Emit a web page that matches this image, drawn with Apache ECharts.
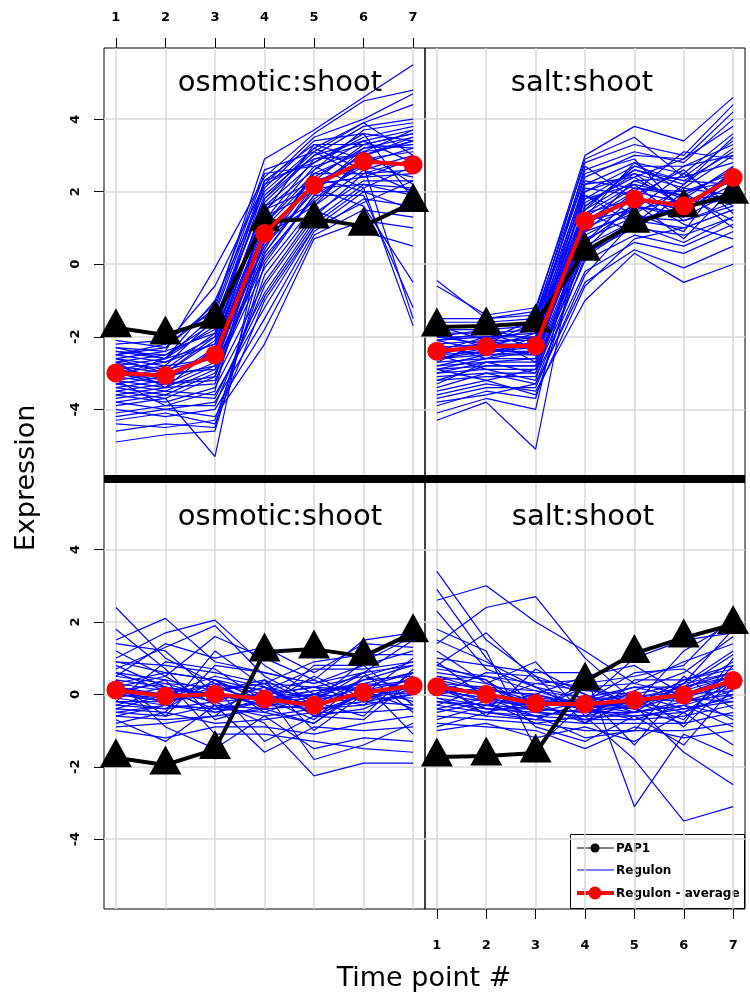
<!DOCTYPE html>
<html>
<head>
<meta charset="utf-8">
<script src="https://cdn.jsdelivr.net/npm/echarts@6/dist/echarts.min.js"></script>
<style>
  html, body { margin: 0; padding: 0; background: #fff; }
  #chart { width: 750px; height: 998px; }
</style>
</head>
<body>
<div id="chart"></div>
<script>
// time points and tick labels
const timePoints = [1, 2, 3, 4, 5, 6, 7];
const yTicks = [-4, -2, 0, 2, 4];
const panelTitles = ["osmotic:shoot", "salt:shoot", "osmotic:shoot", "salt:shoot"];

// PAP1 (same gene in both rows)
const pap1Osmotic = [-1.75, -1.95, -1.52, 1.17, 1.25, 1.05, 1.7];
const pap1Salt = [-1.73, -1.7, -1.62, 0.36, 1.13, 1.56, 1.93];

// regulon averages
const avgOsmoticUp = [-3.0, -3.07, -2.5, 0.85, 2.18, 2.83, 2.74];
const avgSaltUp = [-2.4, -2.27, -2.25, 1.19, 1.8, 1.61, 2.39];
const avgOsmoticFlat = [0.12, -0.05, 0.0, -0.13, -0.3, 0.05, 0.24];
const avgSaltFlat = [0.21, 0.0, -0.25, -0.27, -0.16, -0.02, 0.38];

// regulon genes, top-left
const regOsmoticUp = [
  [-2.1, -2.3, -1.2, 2.9, 3.7, 4.6, 5.5],
  [-2.3, -2.4, -0.1, 2.4, 3.6, 4.5, 4.8],
  [-2.5, -2.2, -0.6, 2.2, 3.5, 4.0, 4.7],
  [-2.4, -2.6, -1.0, 2.0, 3.2, 3.9, 4.4],
  [-2.6, -2.8, -1.5, 1.8, 3.0, 3.8, 4.0],
  [-2.7, -2.5, -1.8, 2.3, 2.8, 3.5, 3.8],
  [-2.8, -3.0, -2.0, 1.5, 2.6, 3.4, 3.7],
  [-2.9, -2.7, -2.2, 1.2, 2.9, 3.3, 3.6],
  [-3.0, -3.2, -2.4, 1.0, 2.4, 3.2, 3.5],
  [-3.1, -2.9, -2.6, 0.8, 2.2, 3.0, 3.4],
  [-3.2, -3.4, -2.3, 0.5, 2.0, 3.1, 3.3],
  [-3.3, -3.1, -2.8, 0.2, 1.8, 2.8, 3.2],
  [-3.4, -3.6, -3.0, -0.1, 1.6, 2.6, 3.0],
  [-3.0, -3.3, -2.7, 0.6, 2.5, 2.5, 2.9],
  [-2.6, -3.0, -2.1, 1.4, 3.3, 2.9, 2.7],
  [-2.8, -2.6, -1.7, 1.9, 3.1, 2.4, 2.5],
  [-3.5, -3.3, -3.2, -0.5, 1.4, 2.3, 2.3],
  [-3.6, -3.8, -3.4, -0.8, 1.2, 2.2, 2.1],
  [-3.7, -3.5, -3.6, -1.2, 1.0, 2.0, 2.0],
  [-3.8, -4.0, -3.8, -1.5, 0.9, 1.8, 1.6],
  [-4.0, -4.2, -4.0, -1.8, 0.8, 1.5, 1.3],
  [-4.2, -4.0, -4.2, -2.2, 0.7, 1.2, 1.0],
  [-4.4, -4.5, -4.3, -0.3, 1.5, 0.9, 0.5],
  [-4.6, -4.4, -4.5, 0.3, 2.1, 1.6, -0.5],
  [-4.9, -4.7, -4.6, 0.0, 1.9, 1.9, -1.2],
  [-3.9, -3.7, -5.3, 1.1, 2.7, 2.1, -1.7],
  [-3.2, -3.9, -3.5, 1.6, 2.3, 2.7, -1.5],
  [-2.7, -2.9, -1.9, 2.1, 3.4, 3.6, 1.8],
  [-3.3, -3.5, -2.9, 0.4, 2.6, 3.7, 3.9],
  [-2.2, -2.1, -1.3, 2.5, 2.7, 3.1, 2.2],
  [-3.1, -3.3, -3.1, 0.9, 1.7, 2.9, 3.1],
  [-2.9, -3.1, -2.5, 1.3, 2.0, 3.2, 3.3],
  [-3.6, -3.4, -3.3, 0.7, 2.4, 2.0, 1.5],
  [-2.5, -2.7, -2.0, 1.7, 3.0, 3.4, 2.8],
  [-4.1, -3.9, -3.9, -0.6, 1.3, 2.5, 2.6],
  [-2.4, -2.5, -1.6, 2.2, 2.9, 3.0, 3.5],
  [-2.3, -2.6, -1.4, 2.3, 3.3, 3.3, 3.6],
  [-2.6, -2.4, -1.9, 1.6, 2.8, 3.6, 3.4],
  [-2.8, -3.2, -2.3, 1.1, 2.5, 3.1, 3.7],
  [-3.0, -2.8, -2.6, 0.5, 2.3, 3.3, 3.2],
  [-3.2, -3.0, -2.9, 0.1, 1.9, 2.7, 2.4],
  [-3.4, -3.2, -2.4, 1.8, 3.2, 2.6, 2.0],
  [-3.5, -3.7, -3.1, 0.3, 2.2, 2.4, 2.9],
  [-2.5, -2.3, -1.1, 2.6, 3.1, 3.9, 3.0],
  [-3.8, -3.6, -3.7, -0.9, 1.1, 2.1, 2.7],
  [-2.7, -3.4, -2.8, 0.8, 1.6, 3.0, 3.4],
  [-3.1, -2.6, -2.2, 1.5, 2.1, 2.2, 1.9],
  [-4.3, -4.1, -4.4, -1.0, 1.0, 1.7, 2.3]
];

// regulon genes, top-right
const regSaltUp = [
  [-0.45, -1.5, -1.3, 3.0, 3.8, 3.4, 4.6],
  [-0.6, -1.4, -1.2, 2.8, 3.3, 3.0, 4.4],
  [-1.5, -1.5, -1.4, 2.6, 3.1, 2.8, 4.0],
  [-1.6, -1.6, -1.5, 2.4, 3.0, 2.9, 3.8],
  [-1.7, -1.7, -1.6, 2.2, 2.8, 2.5, 3.6],
  [-1.8, -1.8, -1.7, 2.0, 2.7, 2.7, 3.3],
  [-1.9, -1.9, -1.8, 1.8, 2.6, 2.3, 3.1],
  [-2.0, -2.0, -1.9, 1.6, 2.5, 2.1, 3.0],
  [-2.1, -2.0, -2.0, 1.5, 2.3, 2.4, 2.8],
  [-2.2, -2.1, -2.1, 1.4, 2.2, 1.9, 2.6],
  [-2.3, -2.2, -2.2, 1.3, 2.1, 2.0, 2.5],
  [-2.4, -2.3, -2.3, 1.2, 2.0, 1.7, 2.3],
  [-2.5, -2.4, -2.4, 1.1, 1.8, 1.5, 2.2],
  [-2.6, -2.5, -2.5, 1.0, 1.6, 1.3, 2.0],
  [-2.7, -2.6, -2.6, 0.8, 1.5, 1.8, 1.9],
  [-2.8, -2.7, -2.7, 0.7, 1.3, 1.2, 1.7],
  [-2.9, -2.8, -2.8, 0.5, 1.2, 1.0, 1.5],
  [-3.0, -2.9, -2.9, 0.3, 1.0, 0.8, 1.3],
  [-3.1, -3.0, -3.0, 0.1, 0.8, 0.5, 1.1],
  [-3.2, -3.1, -3.1, -0.2, 0.6, 0.3, 0.9],
  [-3.4, -3.0, -3.3, -0.5, 0.4, -0.1, 0.5],
  [-3.6, -3.3, -3.5, -1.0, 0.3, -0.5, 0.0],
  [-3.9, -3.5, -3.7, 0.6, 1.9, 1.1, 0.7],
  [-4.1, -3.7, -4.0, 1.9, 1.4, 0.9, 2.7],
  [-4.3, -3.8, -5.1, 1.7, 2.4, 1.6, 1.8],
  [-2.3, -2.5, -2.0, 2.1, 1.9, 2.6, 1.4],
  [-2.0, -2.2, -1.6, 2.5, 2.9, 1.4, 2.4],
  [-2.6, -2.4, -2.2, 1.9, 1.1, 2.2, 3.5],
  [-2.2, -2.6, -2.4, 0.9, 2.0, 3.1, 2.9],
  [-3.3, -2.7, -2.6, 1.4, 0.9, 2.0, 1.0],
  [-2.9, -3.2, -2.9, 0.4, 1.7, 0.7, 2.1],
  [-1.9, -2.3, -1.9, 2.3, 2.1, 1.9, 1.2],
  [-2.5, -2.9, -3.2, 1.2, 1.5, 2.5, 1.6],
  [-3.7, -3.4, -3.4, -0.3, 1.2, 1.6, 2.5],
  [-2.1, -1.9, -2.3, 1.6, 2.6, 2.2, 3.2],
  [-2.7, -2.1, -1.8, 2.7, 1.8, 1.5, 2.0],
  [-1.7, -2.1, -1.5, 2.9, 3.5, 2.4, 3.4],
  [-2.0, -1.8, -2.1, 2.2, 2.4, 2.9, 4.2],
  [-2.4, -2.0, -2.7, 1.5, 2.7, 2.3, 2.2],
  [-2.5, -2.2, -2.0, 1.8, 2.2, 1.2, 1.6],
  [-2.8, -2.5, -2.4, 1.0, 2.3, 1.8, 2.7],
  [-3.0, -2.7, -3.0, 0.9, 1.4, 2.1, 1.9],
  [-3.2, -2.8, -2.8, 0.6, 1.6, 1.4, 2.6],
  [-2.6, -2.3, -2.5, 1.4, 1.8, 2.7, 3.0],
  [-3.5, -3.2, -3.6, -0.6, 0.7, 1.0, 1.5],
  [-2.1, -2.4, -2.3, 2.0, 2.5, 1.6, 1.8],
  [-2.9, -2.6, -2.1, 1.3, 2.8, 2.0, 2.3],
  [-3.8, -3.6, -3.3, 0.2, 1.1, 0.6, 1.3]
];

// regulon genes, bottom-left
const regOsmoticFlat = [
  [2.4, 1.0, 0.3, 0.0, 0.2, 0.5, 0.9],
  [1.5, 2.1, 0.9, 0.6, 0.3, 0.8, 1.2],
  [1.0, 1.7, 2.05, 0.8, 0.0, 0.6, 1.5],
  [0.7, 1.3, 1.9, 0.5, -0.2, 0.9, 1.6],
  [1.2, 0.5, 1.6, 1.0, 0.4, 1.5, 1.7],
  [0.5, 1.4, 1.0, 1.3, 0.6, 1.4, 1.3],
  [0.9, 0.8, 0.6, 0.3, 0.9, 1.1, 1.1],
  [0.3, 0.6, 0.4, 0.1, 0.7, 0.7, 0.9],
  [0.2, 0.0, 0.5, 0.2, -0.1, 0.4, 0.8],
  [0.1, 0.3, 0.2, -0.2, 0.1, 0.2, 0.6],
  [0.0, -0.1, 0.1, 0.4, -0.3, 0.1, 0.4],
  [-0.1, 0.2, -0.1, 0.0, 0.2, -0.2, 0.5],
  [-0.2, -0.2, 0.0, -0.3, -0.4, 0.3, 0.2],
  [-0.3, -0.4, -0.2, 0.2, -0.6, 0.0, 0.3],
  [-0.5, -0.3, -0.4, -0.5, 0.0, -0.3, 0.0],
  [-0.6, -0.7, -0.6, -0.4, -0.8, 0.2, -0.2],
  [-0.8, -0.5, -0.8, -0.7, -0.5, -0.5, -0.4],
  [-1.0, -1.2, -0.9, -0.9, -1.1, -0.8, -0.6],
  [-0.7, -1.3, -0.3, -1.6, -0.9, -1.0, -0.9],
  [0.4, -0.9, -1.5, -0.6, -1.5, -1.2, -1.3],
  [0.6, 0.1, -0.2, -0.8, -2.25, -1.9, -1.9],
  [0.0, 0.4, -1.1, -1.1, -1.3, -1.5, -1.6],
  [-0.4, 0.0, 0.3, 0.1, -1.8, -1.4, -0.8],
  [0.8, 0.2, -0.5, -0.1, -0.7, 0.5, 0.1],
  [1.8, 0.7, -0.7, -0.3, 0.5, -0.1, -0.1],
  [-0.2, 0.9, 0.7, -0.2, -0.2, -0.6, 0.7],
  [0.3, -0.6, 0.8, 0.6, 0.3, 0.6, -0.5],
  [-0.9, -0.8, -0.6, 0.4, -1.0, 0.0, 1.0],
  [0.1, -0.2, 0.2, -1.3, -0.6, -0.7, 0.4],
  [1.4, 1.2, 0.0, -0.1, 0.1, 0.3, -1.1],
  [-0.4, -0.5, 1.2, 0.2, -0.4, -0.3, 0.6],
  [0.2, 0.5, -0.3, -0.4, 0.8, 0.8, -0.3],
  [-0.1, -0.3, -0.4, -0.2, -0.1, -0.1, 0.2],
  [0.6, 0.4, 0.1, 0.3, 0.2, 0.1, 0.0],
  [0.4, 0.2, 0.0, -0.3, -0.2, 0.2, 0.4],
  [-0.3, 0.1, -0.2, -0.1, 0.0, -0.1, 0.1],
  [0.2, -0.1, 0.3, -0.4, -0.3, 0.4, 0.5],
  [0.5, 0.3, -0.1, 0.0, -0.5, 0.0, 0.3],
  [-0.5, -0.6, -0.3, -0.6, -0.4, -0.2, -0.3],
  [0.0, -0.2, 0.1, 0.3, -0.6, -0.4, 0.2],
  [0.9, 0.6, 0.4, -0.2, 0.0, 0.3, 0.6],
  [-0.2, -0.4, 0.4, -0.5, -0.8, 0.1, -0.4],
  [0.3, 0.1, -0.4, 0.1, 0.4, -0.2, 0.0],
  [-0.6, -0.3, -0.5, -0.2, -0.2, 0.6, 0.8]
];

// regulon genes, bottom-right
const regSaltFlat = [
  [3.4, 1.5, 0.5, 0.0, -0.5, -0.3, -0.6],
  [2.6, 3.0, 2.0, 1.2, 0.3, 0.0, 0.5],
  [1.4, 2.4, 2.7, 1.0, -0.2, -0.5, 0.4],
  [2.9, 1.0, -0.4, 0.3, 0.5, 0.8, 2.2],
  [2.3, 0.7, 0.2, -0.5, -0.3, 1.2, 2.0],
  [1.8, 1.2, -1.5, -0.2, 1.0, 1.5, 1.7],
  [1.2, 0.3, 0.9, -0.6, -1.8, -3.5, -3.1],
  [1.0, 0.8, 0.6, 0.6, -3.1, -1.1, -1.7],
  [0.8, 1.7, 0.4, 0.2, -0.3, -1.6, -2.5],
  [0.5, 0.1, 0.0, -0.3, 0.1, 0.6, 1.6],
  [0.4, 0.5, 0.3, 0.1, 0.0, 0.3, 1.2],
  [0.3, 0.2, 0.1, -0.1, -0.1, 0.1, 0.9],
  [0.2, 0.0, -0.2, -0.2, 0.2, 0.2, 0.6],
  [0.1, -0.1, -0.1, -0.4, -0.2, -0.1, 0.3],
  [0.0, -0.2, -0.3, -0.3, -0.4, 0.0, 0.1],
  [-0.1, -0.3, -0.4, -0.5, -0.5, -0.2, 0.0],
  [-0.2, -0.4, -0.5, -0.6, -0.6, -0.4, -0.2],
  [-0.3, -0.5, -0.6, -0.7, -0.7, -0.6, -0.3],
  [-0.4, -0.6, -0.7, -0.8, -0.8, -0.8, -0.5],
  [-0.6, -0.7, -0.8, -1.0, -1.0, -1.0, -0.8],
  [-0.8, -0.9, -1.0, -1.5, -0.9, -1.2, -1.0],
  [-1.0, -0.8, -1.2, -0.9, -1.3, -0.5, -1.4],
  [0.6, 0.4, -0.9, -1.3, -0.6, -1.4, 0.2],
  [0.0, 0.6, 0.5, -0.8, 0.4, 0.4, 0.7],
  [-0.5, -0.2, 0.3, 0.4, -0.4, -0.8, 1.0],
  [0.9, -0.1, -0.6, -1.2, -1.0, 0.5, -0.4],
  [-0.7, -0.3, 0.0, 0.5, 0.8, 0.0, -0.7],
  [1.5, 0.9, 0.2, -0.1, -0.2, -0.7, 0.8],
  [0.2, -0.4, -0.4, 0.2, 0.3, 0.9, 1.4],
  [-0.3, 0.2, -0.2, -0.4, -0.7, -0.3, -0.9],
  [0.4, -0.6, 0.7, 0.0, -1.4, 0.2, 1.1],
  [-0.9, -0.5, -0.7, -0.2, 0.6, 0.7, -0.1],
  [0.1, 0.1, -0.5, -0.6, 0.1, -0.9, 0.4],
  [0.7, 0.5, 0.1, -0.3, -0.5, 0.3, 1.8],
  [0.3, 0.0, -0.2, -0.3, -0.3, 0.1, 0.5],
  [0.1, -0.1, -0.4, -0.5, -0.1, -0.2, 0.2],
  [0.5, 0.3, -0.1, -0.2, -0.4, 0.3, 0.6],
  [-0.2, -0.3, -0.6, -0.4, -0.2, 0.0, 0.3],
  [0.0, 0.2, -0.3, -0.7, -0.5, -0.3, 0.1],
  [0.2, -0.2, -0.8, -0.6, -0.3, 0.4, 0.8],
  [-0.4, -0.1, -0.3, -0.1, 0.2, -0.1, -0.2],
  [0.4, 0.1, 0.0, -0.4, -0.6, -0.5, 0.0],
  [-0.1, -0.5, -0.2, -0.8, -0.1, 0.2, 0.5],
  [0.8, 0.4, -0.5, -0.2, 0.0, -0.4, -0.1]
];

const chart = echarts.init(document.getElementById("chart"));

// 每个面板: 基因表达, PAP1, 平均值
const panels = [
  { genes: regOsmoticUp, pap1: pap1Osmotic, avg: avgOsmoticUp },
  { genes: regSaltUp, pap1: pap1Salt, avg: avgSaltUp },
  { genes: regOsmoticFlat, pap1: pap1Osmotic, avg: avgOsmoticFlat },
  { genes: regSaltFlat, pap1: pap1Salt, avg: avgSaltFlat }
];

const toPoints = (vals) => vals.map((v, i) => [timePoints[i], v]);
const tickFont = { fontFamily: "DejaVu Sans", fontWeight: "bold", fontSize: 13, color: "#000" };
const gridLine = { show: true, lineStyle: { color: "#d9d9d9", width: 1.5 } };

const grids = [
  { left: 104, top: 48, width: 321, height: 431 },
  { left: 425, top: 48, width: 320, height: 431 },
  { left: 104, top: 479, width: 321, height: 430 },
  { left: 425, top: 479, width: 320, height: 430 }
].map((g) => ({ ...g, show: true, borderColor: "#000", borderWidth: 1, backgroundColor: "transparent" }));

const xAxes = grids.map((g, i) => ({
  type: "value",
  gridIndex: i,
  min: 0.76,
  max: 7.24,
  position: i < 2 ? "top" : "bottom",
  axisLine: { show: false, onZero: false },
  axisTick: { show: i === 0 || i === 3, customValues: timePoints, length: 10, lineStyle: { color: "#000" } },
  axisLabel: { show: i === 0 || i === 3, customValues: timePoints, margin: i === 0 ? 24 : 30, ...tickFont },
  splitLine: gridLine
}));

const yAxes = grids.map((g, i) => ({
  type: "value",
  gridIndex: i,
  min: i < 2 ? -5.92 : -5.93,
  max: i < 2 ? 5.96 : 5.95,
  position: "left",
  axisLine: { show: false, onZero: false },
  axisTick: { show: i % 2 === 0, customValues: yTicks, length: 10, lineStyle: { color: "#000" } },
  axisLabel: { show: i % 2 === 0, customValues: yTicks, rotate: 90, margin: 22, ...tickFont },
  splitLine: gridLine
}));

const series = [];
panels.forEach((p, i) => {
  p.genes.forEach((g) => {
    series.push({
      type: "line", xAxisIndex: i, yAxisIndex: i, data: toPoints(g),
      symbol: "none", silent: true, z: 2,
      lineStyle: { color: "#0000ff", width: 1.2 }
    });
  });
  series.push({
    name: "PAP1", type: "line", xAxisIndex: i, yAxisIndex: i, data: toPoints(p.pap1),
    symbol: "triangle", symbolSize: [32, 29], symbolOffset: [0, -5], z: 3,
    lineStyle: { color: "#000", width: 4 }, itemStyle: { color: "#000" }
  });
  series.push({
    name: "Regulon - average", type: "line", xAxisIndex: i, yAxisIndex: i, data: toPoints(p.avg),
    symbol: "circle", symbolSize: 19, z: 4,
    lineStyle: { color: "#ff0000", width: 4 }, itemStyle: { color: "#ff0000" }
  });
});

const titlePos = [[280, 83], [582, 83], [280, 517], [583, 517]];
const graphics = panelTitles.map((t, i) => ({
  type: "text", x: titlePos[i][0], y: titlePos[i][1], z: 10,
  style: { text: t, font: "29px 'DejaVu Sans'", fill: "#000", textAlign: "center", textVerticalAlign: "middle" }
}));

// 中间的粗分隔线
graphics.push({ type: "rect", shape: { x: 104, y: 475, width: 641, height: 8 }, style: { fill: "#000" }, z: 10 });
// 轴标题
graphics.push({
  type: "text", x: 27, y: 478, rotation: Math.PI / 2, z: 10,
  style: { text: "Expression", font: "27px 'DejaVu Sans'", fill: "#000", textAlign: "center", textVerticalAlign: "middle" }
});
graphics.push({
  type: "text", x: 424, y: 979, z: 10,
  style: { text: "Time point #", font: "27px 'DejaVu Sans'", fill: "#000", textAlign: "center", textVerticalAlign: "middle" }
});

// 图例
const legendFont = "bold 12px 'DejaVu Sans'";
graphics.push({
  type: "group", z: 20,
  children: [
    { type: "rect", shape: { x: 570.5, y: 834.5, width: 174, height: 74 }, style: { fill: "#fff", stroke: "#000", lineWidth: 1 } },
    { type: "line", shape: { x1: 577, y1: 848, x2: 614, y2: 848 }, style: { stroke: "#000", lineWidth: 1 } },
    { type: "circle", shape: { cx: 595, cy: 848, r: 4.5 }, style: { fill: "#000" } },
    { type: "text", x: 616, y: 849, style: { text: "PAP1", font: legendFont, fill: "#000", textVerticalAlign: "middle" } },
    { type: "line", shape: { x1: 577, y1: 870, x2: 614, y2: 870 }, style: { stroke: "#0000ff", lineWidth: 1 } },
    { type: "text", x: 616, y: 871, style: { text: "Regulon", font: legendFont, fill: "#000", textVerticalAlign: "middle" } },
    { type: "line", shape: { x1: 577, y1: 893, x2: 614, y2: 893 }, style: { stroke: "#ff0000", lineWidth: 4 } },
    { type: "circle", shape: { cx: 595, cy: 893, r: 6.5 }, style: { fill: "#ff0000" } },
    { type: "text", x: 616, y: 894, style: { text: "Regulon - average", font: legendFont, fill: "#000", textVerticalAlign: "middle" } }
  ]
});

chart.setOption({
  animation: false,
  backgroundColor: "#fff",
  grid: grids,
  xAxis: xAxes,
  yAxis: yAxes,
  series: series,
  graphic: graphics
});
</script>
</body>
</html>
